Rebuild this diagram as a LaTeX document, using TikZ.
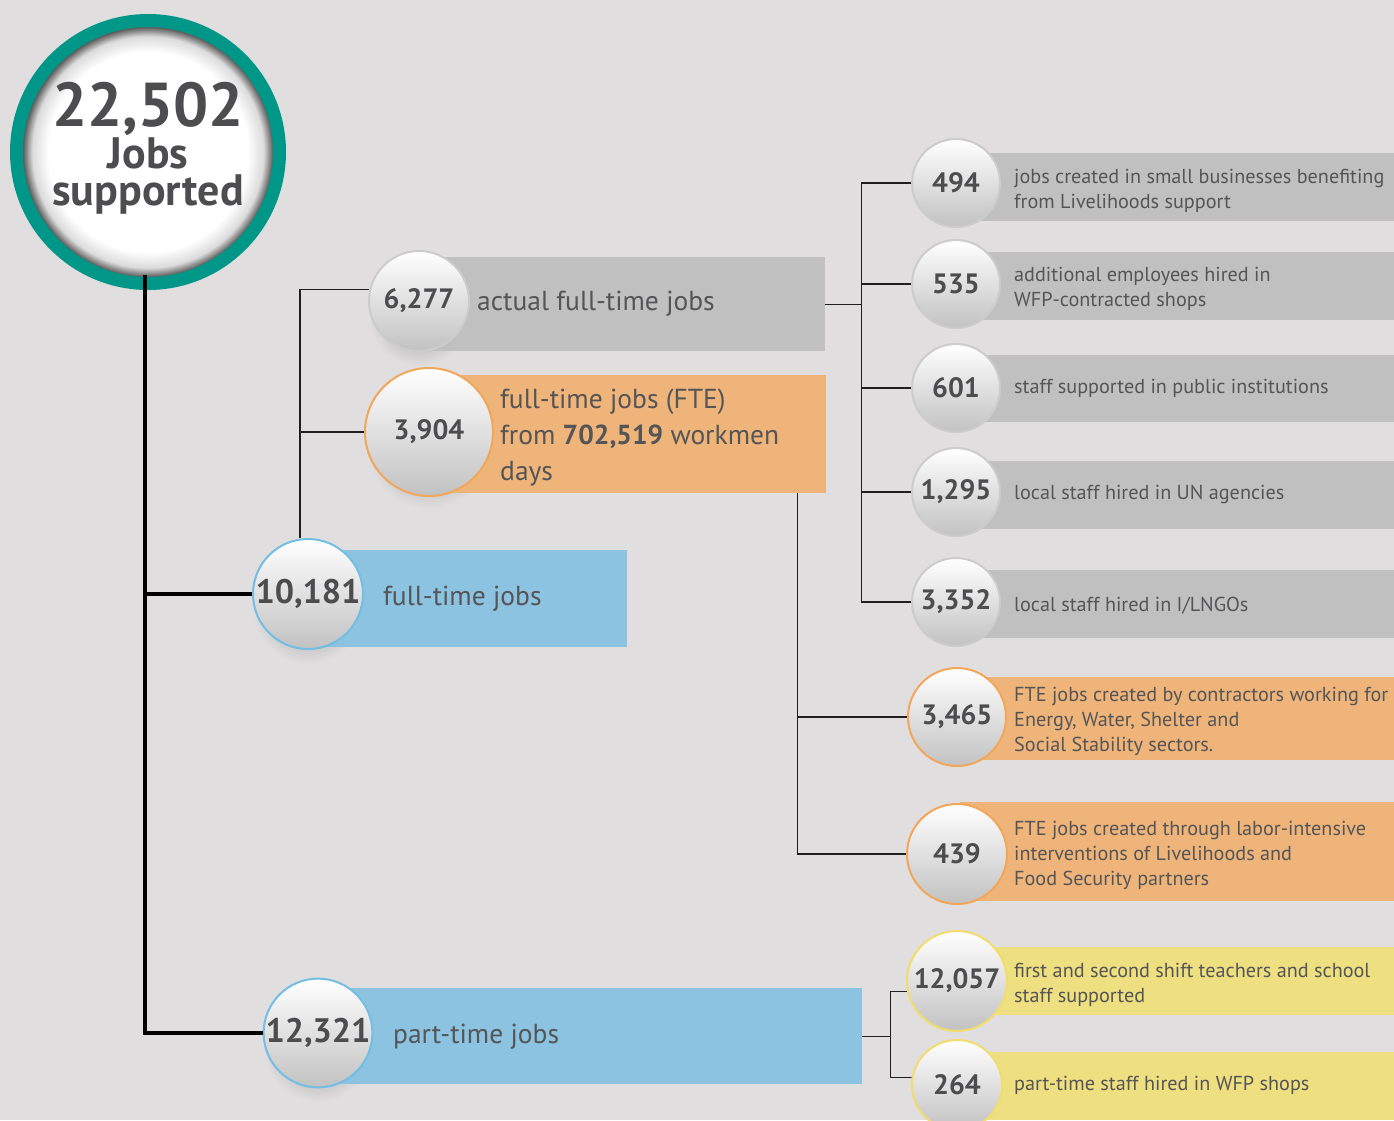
\documentclass[tikz,border=0pt]{standalone}
\usepackage{fontspec}
\setmainfont{PT Sans}
\usetikzlibrary{calc}
\definecolor{bgc}{RGB}{224,222,223}
\definecolor{tealc}{RGB}{0,150,136}
\definecolor{grayb}{RGB}{192,192,192}
\definecolor{orangeb}{RGB}{238,180,122}
\definecolor{blueb}{RGB}{139,195,224}
\definecolor{yellowb}{RGB}{238,223,128}
\definecolor{grayr}{RGB}{204,204,204}
\definecolor{oranger}{RGB}{242,166,90}
\definecolor{bluer}{RGB}{116,189,227}
\definecolor{yellowr}{RGB}{242,221,108}
\definecolor{numc}{RGB}{77,77,79}
\definecolor{txtc}{RGB}{85,85,87}
\definecolor{linec}{RGB}{30,30,30}
\newcommand\myfs[2]{\fontsize{#1}{#2}\selectfont}
\newcommand\stk[1]{\begin{tabular}[t]{@{}l@{}}#1\end{tabular}}
\pgfdeclareradialshading{rimshade}{\pgfpointorigin}{color(0bp)=(white); color(19bp)=(white); color(22bp)=(black!14); color(23.8bp)=(black!65); color(25bp)=(black!65); color(50bp)=(black!65)}
\pgfdeclarelayer{back}\pgfdeclarelayer{lines}\pgfsetlayers{back,lines,main}
\newcommand\csh[2]{\shade[inner color=black!40, outer color=bgc] ($(#1.center)+(0,15)$) ellipse [x radius=#2pt, y radius=#2pt];}
\begin{document}
\begin{tikzpicture}[x=1pt,y=-1pt,
  conn/.style={draw=linec, line width=1.3pt},
  trunk/.style={draw=black, line width=4pt},
  bar/.style={rectangle, draw=none, inner sep=0pt, anchor=north west},
  numcirc/.style={circle, inner sep=0pt, minimum size=#1, top color=white, bottom color=black!24, line width=2pt, text=numc},
  lbl/.style={anchor=base west, inner sep=0pt, text=txtc, font=\myfs{20.2}{25}},
  biglbl/.style={anchor=base west, inner sep=0pt, text=txtc, font=\myfs{27.5}{36}},
  maintxt/.style={anchor=base, inner sep=0pt, text=numc}
]
\begin{pgfonlayer}{back}
\fill[bgc] (0,0) rectangle (1394,1120);
\end{pgfonlayer}
\useasboundingbox (0,0) rectangle (1394,1120);

% bars
\node[bar, fill=grayb, minimum width=405pt, minimum height=94pt] (r6277) at (420,257) {};
\node[bar, fill=orangeb, minimum width=396pt, minimum height=118pt] (r3904) at (430,375) {};
\node[bar, fill=blueb, minimum width=327pt, minimum height=97pt] (r10181) at (300,550) {};
\node[bar, fill=blueb, minimum width=542pt, minimum height=96pt] (r12321) at (320,988) {};
\node[bar, fill=grayb, minimum width=434pt, minimum height=68pt] (r494) at (960,153) {};
\node[bar, fill=grayb, minimum width=434pt, minimum height=68pt] (r535) at (960,252) {};
\node[bar, fill=grayb, minimum width=434pt, minimum height=67pt] (r601) at (960,355) {};
\node[bar, fill=grayb, minimum width=434pt, minimum height=68pt] (r1295) at (960,461) {};
\node[bar, fill=grayb, minimum width=434pt, minimum height=68pt] (r3352) at (960,570) {};
\node[bar, fill=orangeb, minimum width=434pt, minimum height=83pt] (r3465) at (960,677) {};
\node[bar, fill=orangeb, minimum width=434pt, minimum height=99pt] (r439) at (960,802) {};
\node[bar, fill=yellowb, minimum width=434pt, minimum height=68pt] (r12057) at (960,947) {};
\node[bar, fill=yellowb, minimum width=434pt, minimum height=68pt] (r264) at (960,1052) {};

% main circle
\node[circle, minimum size=263pt, inner sep=0pt, draw=tealc, line width=13pt, shade, shading=rimshade] (nmain) at (148,152) {};
\node[maintxt, font=\myfs{44}{38}\bfseries] (tmain) at (148,126) {\begin{tabular}[t]{@{}c@{}}{\myfs{62}{62}22,502}\\ Jobs\\[-5pt] supported\end{tabular}};

% number circles
\node[numcirc=110pt, draw=bluer, font=\myfs{34}{34}\bfseries] (n10181) at (308,594) {10,181};
\node[numcirc=100pt, draw=grayr, font=\myfs{28}{28}\bfseries] (n6277) at (419,301) {6,277};
\node[numcirc=128pt, draw=oranger, font=\myfs{28}{28}\bfseries] (n3904) at (429,432) {3,904};
\node[numcirc=108pt, draw=bluer, font=\myfs{34}{34}\bfseries] (n12321) at (318,1033) {12,321};
\node[numcirc=88pt, draw=grayr, font=\myfs{28}{28}\bfseries] (n494) at (956,183) {494};
\node[numcirc=88pt, draw=grayr, font=\myfs{28}{28}\bfseries] (n535) at (956,284) {535};
\node[numcirc=88pt, draw=grayr, font=\myfs{28}{28}\bfseries] (n601) at (956,388) {601};
\node[numcirc=88pt, draw=grayr, font=\myfs{28}{28}\bfseries] (n1295) at (956,492) {1,295};
\node[numcirc=88pt, draw=grayr, font=\myfs{28}{28}\bfseries] (n3352) at (956,602) {3,352};
\node[numcirc=98pt, draw=oranger, font=\myfs{28}{28}\bfseries] (n3465) at (957,717) {3,465};
\node[numcirc=100pt, draw=oranger, font=\myfs{28}{28}\bfseries] (n439) at (957,854) {439};
\node[numcirc=100pt, draw=yellowr, font=\myfs{28}{28}\bfseries] (n12057) at (957,981) {12,057};
\node[numcirc=90pt, draw=yellowr, font=\myfs{28}{28}\bfseries] (n264) at (957,1085) {264};

% labels
\node[biglbl] (t6277) at (477,310) {actual full-time jobs};
\node[biglbl] (t3904) at (500,408) {\stk{full-time jobs (FTE)\\ from \textbf{702,519} workmen\\ days}};
\node[biglbl] (t10181) at (383,605) {full-time jobs};
\node[biglbl] (t12321) at (393,1043) {part-time jobs};
\node[lbl] (t494) at (1014,183) {\stk{jobs created in small businesses benefiting\\ from Livelihoods support}};
\node[lbl] (t535) at (1014,281) {\stk{additional employees hired in\\ WFP-contracted shops}};
\node[lbl] (t601) at (1014,393) {staff supported in public institutions};
\node[lbl] (t1295) at (1014,499) {local staff hired in UN agencies};
\node[lbl] (t3352) at (1014,611) {local staff hired in I/LNGOs};
\node[lbl] (t3465) at (1014,701) {\stk{FTE jobs created by contractors working for\\ Energy, Water, Shelter and\\ Social Stability sectors.}};
\node[lbl] (t439) at (1014,835) {\stk{FTE jobs created through labor-intensive\\ interventions of Livelihoods and\\ Food Security partners}};
\node[lbl] (t12057) at (1014,977) {\stk{first and second shift teachers and school\\ staff supported}};
\node[lbl] (t264) at (1014,1090) {part-time staff hired in WFP shops};

% shadows and connectors
\begin{pgfonlayer}{lines}
\csh{n10181}{55}
\csh{n12321}{54}
\csh{n6277}{50}
\csh{n3904}{62}
\draw[conn] (n10181.north) ++(-8,0) |- (n6277.167);
\draw[conn] (n10181.north) ++(-8,0) |- (n3904.west);
\draw[conn] (r6277.east) -- ++(36,0) |- (n494.west);
\draw[conn] (r6277.east) -- ++(36,0) |- (n535.west);
\draw[conn] (r6277.east) -- ++(36,0) |- (n601.west);
\draw[conn] (r6277.east) -- ++(36,0) |- (n1295.west);
\draw[conn] (r6277.east) -- ++(36,0) |- (n3352.west);
\draw[conn] (r3904.south east) ++(-29,0) |- (n3465.west);
\draw[conn] (r3904.south east) ++(-29,0) |- (n439.west);
\draw[conn] (r12321.east) -- ++(28,0) |- (n12057.192);
\draw[conn] (r12321.east) -- ++(28,0) |- (n264.171);
\end{pgfonlayer}

\draw[trunk] (nmain.center) ++(-3,123) |- (n10181.west);
\draw[trunk] (nmain.center) ++(-3,123) |- (n12321.west);
\end{tikzpicture}
\end{document}
